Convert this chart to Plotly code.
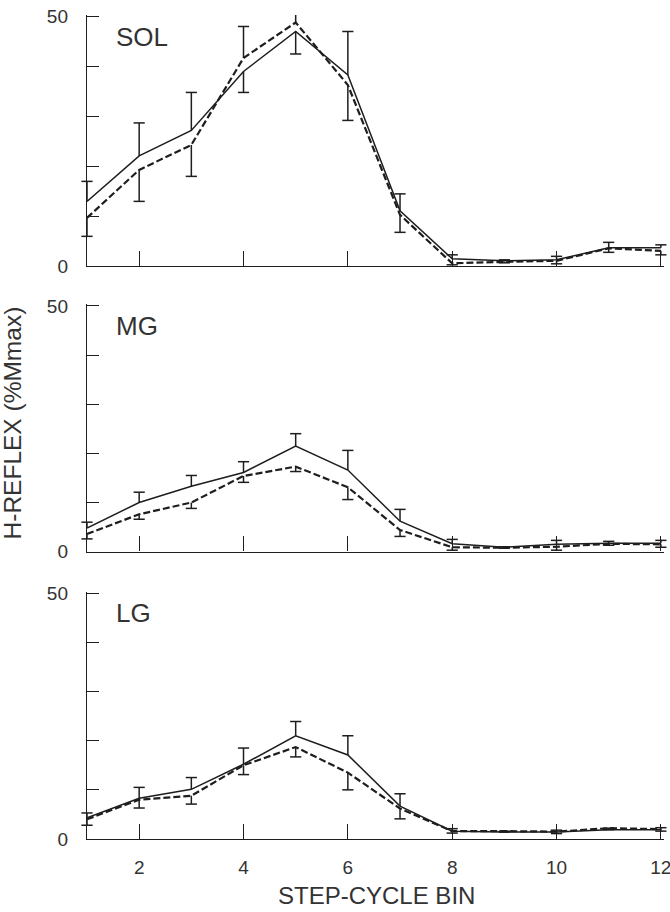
import plotly.graph_objects as go

# ---------------- data ----------------
bins = list(range(1, 13))
x_tickvals = [2, 4, 6, 8, 10, 12]
x_ticktext = ["2", "4", "6", "8", "10", "12"]
y_tickvals = [0, 10, 20, 30, 40, 50]
y_ticktext = ["0", "", "", "", "", "50"]
muscles = ["SOL", "MG", "LG"]

sol_solid = [13.0, 22.1, 27.2, 39.0, 47.0, 38.3, 11.1, 1.5, 1.1, 1.3, 3.7, 3.7]
sol_solid_up = [4.0, 6.6, 7.6, 0, 0, 8.7, 3.4, 0.8, 0.2, 0.7, 1.1, 0.6]
sol_solid_down = [0, 0, 0, 4.2, 4.5, 0, 0, 0, 0, 0, 0, 0]
sol_dashed = [9.7, 19.3, 24.3, 41.7, 48.8, 36.3, 10.3, 0.6, 0.9, 1.1, 3.6, 3.1]
sol_dashed_up = [0, 0, 0, 6.3, 4.5, 0, 0, 0, 0, 0, 0, 0]
sol_dashed_down = [3.7, 6.3, 6.3, 0, 0, 7.1, 3.5, 0.3, 0.2, 0.6, 0.8, 0.8]

mg_solid = [4.8, 10.0, 13.3, 16.1, 21.5, 16.6, 6.2, 1.6, 0.9, 1.5, 1.7, 1.7]
mg_solid_up = [1.2, 2.1, 2.2, 2.2, 2.5, 4.0, 2.4, 0.9, 0.1, 0.8, 0.4, 0.6]
mg_solid_down = [0] * 12
mg_dashed = [3.6, 7.6, 10.0, 15.4, 17.3, 13.1, 4.4, 0.9, 0.8, 1.0, 1.6, 1.5]
mg_dashed_up = [0] * 12
mg_dashed_down = [1.0, 1.0, 1.2, 1.3, 1.0, 2.5, 1.3, 0.6, 0.1, 0.7, 0.3, 0.6]

lg_solid = [4.3, 8.3, 10.1, 15.2, 21.0, 17.1, 6.7, 1.6, 1.4, 1.4, 1.9, 1.9]
lg_solid_up = [1.0, 2.2, 2.4, 3.3, 2.9, 3.9, 2.5, 0.5, 0.2, 0.4, 0.3, 0.4]
lg_solid_down = [0] * 12
lg_dashed = [4.0, 8.0, 8.8, 15.0, 18.7, 13.5, 6.2, 1.6, 1.6, 1.5, 2.2, 2.0]
lg_dashed_up = [0] * 12
lg_dashed_down = [1.2, 1.7, 1.7, 1.9, 2.0, 3.5, 2.1, 0.4, 0.2, 0.4, 0.3, 0.4]

# ---------------- figure ----------------
INK = "#1e1e1e"
TEXT = "#333333"
FONT = "Liberation Sans, Arial, sans-serif"

panels = [
    (sol_solid, sol_solid_up, sol_solid_down, sol_dashed, sol_dashed_up, sol_dashed_down),
    (mg_solid, mg_solid_up, mg_solid_down, mg_dashed, mg_dashed_up, mg_dashed_down),
    (lg_solid, lg_solid_up, lg_solid_down, lg_dashed, lg_dashed_up, lg_dashed_down),
]
domains = [[0.695, 1.0], [0.3487, 0.6488], [0.0, 0.3001]]

fig = go.Figure()


def add_series(y, up, down, dash, width, xa, ya):
    fig.add_trace(go.Scatter(
        x=bins, y=y, mode="lines", xaxis=xa, yaxis=ya,
        line=dict(color=INK, width=width, dash=dash),
        error_y=dict(type="data", symmetric=False, array=up, arrayminus=down,
                     color=INK, thickness=1.5, width=0),
        cliponaxis=False, showlegend=False, hoverinfo="skip",
    ))
    cap_x = bins + bins
    cap_y = [v + u if u > 0 else None for v, u in zip(y, up)] + \
            [v - d if d > 0 else None for v, d in zip(y, down)]
    fig.add_trace(go.Scatter(
        x=cap_x, y=cap_y, mode="markers", xaxis=xa, yaxis=ya,
        marker=dict(symbol="line-ew", size=8, color=INK,
                    line=dict(color=INK, width=1.5)),
        cliponaxis=False, showlegend=False, hoverinfo="skip",
    ))


for i, (s, su, sd, d, du, dd) in enumerate(panels):
    idx = "" if i == 0 else str(i + 1)
    xa, ya = "x" + idx, "y" + idx
    add_series(s, su, sd, "solid", 1.5, xa, ya)
    add_series(d, du, dd, "7px,3px", 2.2, xa, ya)

    fig.layout["xaxis" + idx] = dict(
        domain=[0, 1], anchor=ya, range=[1, 12.06],
        showline=True, linecolor=INK, linewidth=1.4,
        ticks="inside", ticklen=15, tickwidth=1.4, tickcolor=INK,
        tickvals=x_tickvals, ticktext=x_ticktext,
        showticklabels=(i == 2), ticklabelstandoff=11,
        ticklabeloverflow="allow", automargin=False,
        showgrid=False, zeroline=False,
        tickfont=dict(family=FONT, size=19, color=TEXT),
    )
    fig.layout["yaxis" + idx] = dict(
        domain=domains[i], anchor=xa, range=[0, 50.3],
        showline=True, linecolor=INK, linewidth=1.4,
        ticks="inside", ticklen=12, tickwidth=1.4, tickcolor=INK,
        tickvals=y_tickvals, ticktext=y_ticktext,
        ticklabelstandoff=14, ticklabeloverflow="allow", automargin=False,
        showgrid=False, zeroline=False,
        tickfont=dict(family=FONT, size=19, color=TEXT),
    )
    fig.add_annotation(
        text=muscles[i], xref=xa + " domain", yref=ya + " domain",
        x=0.047, y=0.912, xanchor="left", yanchor="middle", showarrow=False,
        font=dict(family=FONT, size=26, color=TEXT),
    )

fig.add_annotation(
    text="H-REFLEX (%Mmax)", xref="paper", yref="paper",
    x=-0.13, y=0.5055, xanchor="center", yanchor="middle",
    textangle=-90, showarrow=False,
    font=dict(family=FONT, size=24.5, color=TEXT),
)
fig.add_annotation(
    text="STEP-CYCLE BIN", xref="paper", yref="paper",
    x=0.5017, y=-0.068, xanchor="center", yanchor="middle",
    showarrow=False,
    font=dict(family=FONT, size=24, color=TEXT),
)

fig.update_layout(
    width=670, height=912,
    margin=dict(l=87, r=6, t=15, b=73, autoexpand=False),
    paper_bgcolor="white", plot_bgcolor="white",
    showlegend=False,
)

fig.write_html(
    "out.html",
    config={"displayModeBar": False},
    post_script="document.body.style.margin='0px';document.body.style.overflow='hidden';",
)
